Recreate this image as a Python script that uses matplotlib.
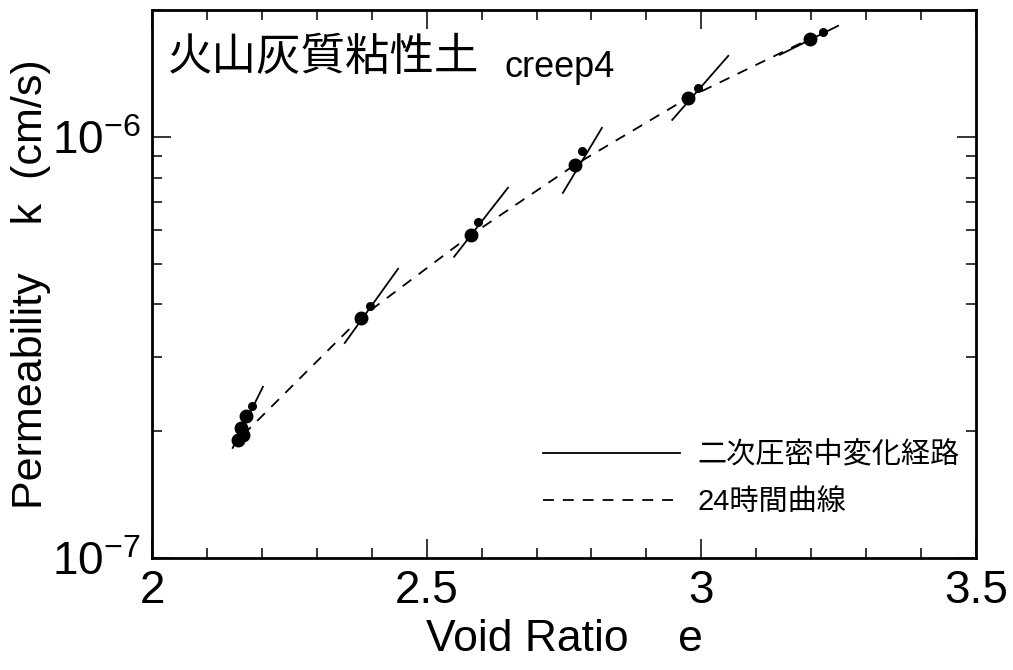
import matplotlib
matplotlib.use('Agg')
import matplotlib.pyplot as plt
from matplotlib.ticker import MultipleLocator, LogLocator, NullFormatter, FixedLocator, FixedFormatter

plt.rcParams['font.family'] = ['Liberation Sans', 'Noto Sans CJK JP']
plt.rcParams['mathtext.fontset'] = 'custom'
plt.rcParams['mathtext.rm'] = 'Liberation Sans'

# 24時間曲線 (points at end of 24h for each load step)
e_24h = [2.166, 2.380, 2.581, 2.770, 2.976, 3.198]
k_24h = [1.96e-7, 3.72e-7, 5.85e-7, 8.58e-7, 1.238e-6, 1.71e-6]

# 二次圧密中変化経路 (start / end of each short segment)
path_e0 = [2.147, 2.351, 2.550, 2.748, 2.947, 3.143]
path_k0 = [1.825e-7, 3.24e-7, 5.19e-7, 7.36e-7, 1.097e-6, 1.566e-6]
path_e1 = [2.202, 2.448, 2.648, 2.819, 3.049, 3.249]
path_k1 = [2.55e-7, 4.86e-7, 7.57e-7, 1.05e-6, 1.557e-6, 1.835e-6]

# measured points on the paths
e_small = [2.182, 2.397, 2.593, 2.783, 2.994, 3.222]
k_small = [2.30e-7, 3.97e-7, 6.28e-7, 9.26e-7, 1.307e-6, 1.77e-6]
e_extra = [2.157, 2.162, 2.172]
k_extra = [1.91e-7, 2.03e-7, 2.17e-7]

fig = plt.figure(figsize=(10.13, 6.70), dpi=100)
ax = fig.add_axes([0.150, 0.1672, 0.8135, 0.8178])

for i in range(len(path_e0)):
    ln_solid, = ax.plot([path_e0[i], path_e1[i]], [path_k0[i], path_k1[i]],
                        color='black', lw=1.3)
ln_dash, = ax.plot(e_24h, k_24h, color='black', lw=1.3, dashes=(6, 5))
ax.plot(e_24h, k_24h, 'o', color='black', ms=9, ls='none')
ax.plot(e_extra, k_extra, 'o', color='black', ms=9, ls='none')
ax.plot(e_small, k_small, 'o', color='black', ms=5.5, ls='none')

ax.set_yscale('log')
ax.set_xlim(2, 3.5)
ax.set_ylim(1e-7, 2e-6)

ax.xaxis.set_major_locator(FixedLocator([2, 2.5, 3, 3.5]))
ax.xaxis.set_major_formatter(FixedFormatter(['2', '2.5', '3', '3.5']))
ax.xaxis.set_minor_locator(MultipleLocator(0.1))
ax.yaxis.set_major_locator(FixedLocator([1e-7, 1e-6]))
ax.yaxis.set_major_formatter(FixedFormatter([r'$\mathregular{10^{-7}}$', r'$\mathregular{10^{-6}}$']))
ax.yaxis.set_minor_locator(LogLocator(base=10, subs=range(2, 10)))
ax.yaxis.set_minor_formatter(NullFormatter())

ax.tick_params(which='both', direction='in', top=True, right=True, width=1.1)
ax.tick_params(which='major', length=14, labelsize=33, pad=8)
ax.tick_params(which='minor', length=7)
for s in ax.spines.values():
    s.set_linewidth(2)

ax.set_xlabel('Void Ratio    e', fontsize=32, labelpad=4)
ax.set_ylabel('Permeability    k  (cm/s)', fontsize=31)
ax.yaxis.set_label_coords(-0.122, 0.5)

ax.text(0.0194, 0.914, '火山灰質粘性土', transform=ax.transAxes, fontsize=32,
        family='Noto Sans CJK JP', va='center', ha='left')
ax.text(0.428, 0.878, 'creep4', transform=ax.transAxes, fontsize=26,
        va='baseline', ha='left')

ax.legend([ln_solid, ln_dash], ['二次圧密中変化経路', '24時間曲線'],
          loc='upper left', bbox_to_anchor=(0.4745, 0.213), frameon=False,
          fontsize=21, handlelength=4.7, handletextpad=0.6, labelspacing=0.65,
          borderpad=0, borderaxespad=0)

fig.savefig('out.png', dpi=100)
